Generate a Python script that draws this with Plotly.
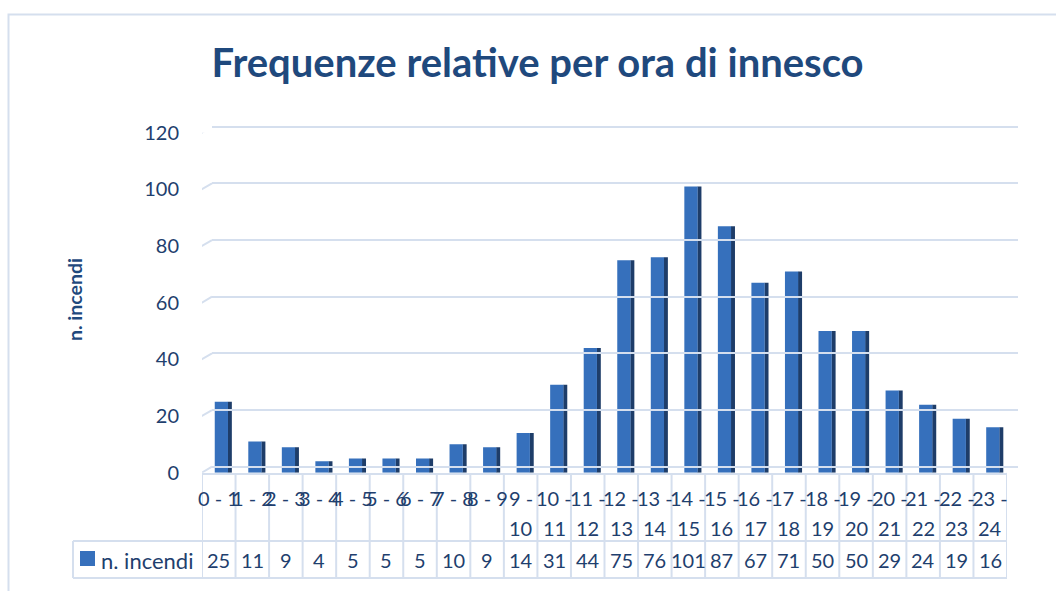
import plotly.graph_objects as go

categories = ["0 - 1", "1 - 2", "2 - 3", "3 - 4", "4 - 5", "5 - 6", "6 - 7", "7 - 8",
              "8 - 9", "9 - 10", "10 - 11", "11 - 12", "12 - 13", "13 - 14", "14 - 15",
              "15 - 16", "16 - 17", "17 - 18", "18 - 19", "19 - 20", "20 - 21", "21 - 22",
              "22 - 23", "23 - 24"]
values = [25, 11, 9, 4, 5, 5, 5, 10, 9, 14, 31, 44, 75, 76, 101, 87, 67, 71, 50, 50,
          29, 24, 19, 16]
series_name = "n. incendi"
title_text = "Frequenze relative per ora di innesco"
y_title = "n. incendi"
y_ticks = [0, 20, 40, 60, 80, 100, 120]

W, H = 1056, 591
FONT = "Lato"
TXT = "#1F3F6E"
TITLE_C = "#1F497D"
GRID = "#D5DFEE"
FRONT = "#3670BC"
SIDE = "#1E3D69"
FS = 20


def px_x(p):
    return p / W


def px_y(p):
    return (H - p) / H


idx = list(range(len(categories)))
UPX = 340.0 / 120.0  # pixels per unit

fig = go.Figure()
fig.add_trace(go.Bar(x=idx, y=values, offset=0.27, width=0.12,
                     marker=dict(color=SIDE, line=dict(width=0)),
                     hoverinfo="skip", showlegend=False))
fig.add_trace(go.Bar(x=idx, y=values, offset=-0.12, width=0.395, name=series_name,
                     marker=dict(color=FRONT, line=dict(width=0)),
                     showlegend=False))
fig.add_trace(go.Scatter(x=[0], y=[0], xaxis="x2", yaxis="y2", mode="markers",
                         marker=dict(opacity=0), hoverinfo="skip", showlegend=False))

fig.update_layout(
    width=W, height=H, autosize=False, showlegend=False,
    margin=dict(l=0, r=0, t=0, b=0, pad=0, autoexpand=False),
    paper_bgcolor="white", plot_bgcolor="rgba(0,0,0,0)",
    barmode="overlay",
    font=dict(family=FONT, color=TXT, size=FS),
    title=dict(text=f"<b>{title_text}</b>", x=px_x(537.5), xanchor="center",
               y=px_y(63), yanchor="middle", yref="container", automargin=False,
               font=dict(family=FONT, size=40, color=TITLE_C)),
    xaxis=dict(domain=[px_x(202), px_x(1007)], range=[-0.5, len(categories) - 0.5],
               showticklabels=False, showgrid=False, zeroline=False, showline=False,
               automargin=False, fixedrange=True),
    yaxis=dict(domain=[px_y(472.7), px_y(132.7)], range=[0, 120], tickvals=y_ticks,
               showgrid=False, zeroline=False, showline=False, ticks="",
               automargin=False, ticklabelstandoff=22,
               tickfont=dict(size=FS, color=TXT), fixedrange=True),
    xaxis2=dict(domain=[px_x(212), px_x(1018)], range=[0, 1], anchor="y2",
                showticklabels=False, showgrid=False, zeroline=False, showline=False,
                automargin=False, fixedrange=True),
    yaxis2=dict(domain=[px_y(466.7 + UPX), px_y(126.7 - UPX)], range=[-1, 121],
                tickvals=y_ticks, anchor="x2", showticklabels=False, showgrid=True,
                gridcolor=GRID, gridwidth=2, zeroline=False, showline=False, ticks="",
                automargin=False, fixedrange=True),
)

shapes = []
shapes.append(dict(type="rect", xref="paper", yref="paper", x0=px_x(8.5), x1=1.02,
                   y0=-0.05, y1=px_y(14.5), line=dict(color=GRID, width=2), layer="below"))
for v in y_ticks:
    shapes.append(dict(type="line", xref="x", yref="y", xsizemode="pixel", ysizemode="pixel",
                       xanchor=-0.5, yanchor=v, x0=-2, x1=10, y0=-1, y1=6,
                       line=dict(color=GRID, width=2)))
shapes.append(dict(type="line", xref="x", yref="y", xsizemode="pixel", ysizemode="pixel",
                   xanchor=len(categories) - 0.5, yanchor=0, x0=0, x1=11, y0=-1, y1=6,
                   line=dict(color=GRID, width=2)))

y_top, y_mid, y_bot = px_y(474), px_y(541), px_y(578)
n = len(categories)
shapes.append(dict(type="line", xref="x", yref="paper", x0=-0.5, x1=n - 0.5, y0=y_top, y1=y_top,
                   line=dict(color=GRID, width=2)))
for yy in (y_mid, y_bot):
    shapes.append(dict(type="line", xref="paper", yref="paper", x0=px_x(73), x1=px_x(1007),
                       y0=yy, y1=yy, line=dict(color=GRID, width=2)))
shapes.append(dict(type="line", xref="paper", yref="paper", x0=px_x(73), x1=px_x(73),
                   y0=y_mid, y1=y_bot, line=dict(color=GRID, width=2)))
for k in range(n + 1):
    shapes.append(dict(type="line", xref="x", yref="paper", x0=k - 0.5, x1=k - 0.5,
                       y0=y_top, y1=y_bot, line=dict(color=GRID, width=2)))
shapes.append(dict(type="rect", xref="paper", yref="paper", x0=px_x(80), x1=px_x(95),
                   y0=px_y(566), y1=px_y(551), fillcolor=FRONT, line=dict(width=0)))
fig.update_layout(shapes=shapes)

ann = []
for i, (c, v) in enumerate(zip(categories, values)):
    if len(c) > 5:
        a, b = c.rsplit(" ", 1)
        ann.append(dict(x=i, y=px_y(498), xref="x", yref="paper", text=a, showarrow=False,
                        xanchor="center", yanchor="middle", font=dict(size=FS, color=TXT)))
        ann.append(dict(x=i, y=px_y(528), xref="x", yref="paper", text=b, showarrow=False,
                        xanchor="center", yanchor="middle", font=dict(size=FS, color=TXT)))
    else:
        ann.append(dict(x=i, y=px_y(498), xref="x", yref="paper", text=c, showarrow=False,
                        xanchor="center", yanchor="middle", font=dict(size=FS, color=TXT)))
    ann.append(dict(x=i, y=px_y(560), xref="x", yref="paper", text=str(v), showarrow=False,
                    xanchor="center", yanchor="middle", font=dict(size=FS, color=TXT)))
ann.append(dict(x=px_x(99), y=px_y(560), xref="paper", yref="paper", text=series_name,
                showarrow=False, xanchor="left", yanchor="middle", font=dict(size=22, color=TXT)))
ann.append(dict(x=px_x(74), y=px_y(300), xref="paper", yref="paper", text=f"<b>{y_title}</b>",
                showarrow=False, textangle=-90, xanchor="center", yanchor="middle",
                font=dict(size=19.5, color=TITLE_C)))
fig.update_layout(annotations=ann)

fig.write_html("out.html", config={"displayModeBar": False},
               post_script="document.body.style.margin='0';")
